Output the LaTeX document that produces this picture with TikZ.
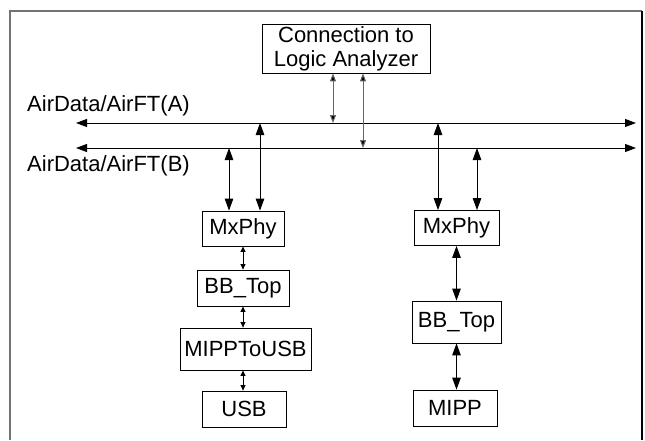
\documentclass[tikz,border=0pt]{standalone}
\usepackage{fontspec}
\setmainfont{Liberation Sans}
\usetikzlibrary{arrows.meta}

\begin{document}
\begin{tikzpicture}[
        x=1pt, y=-1pt,
        every node/.style={
            font=\fontsize{22}{24}\selectfont,
            inner sep=0pt
        },
        caja/.style={
            draw=black,
            line width=0.8pt,
            fill=white,
            align=center
        },
        bus/.style={
            line width=1pt,
            {Triangle[length=11pt,width=8pt]}-{Triangle[length=11pt,width=8pt]}
        },
        enlace/.style={
            line width=1pt,
            {Triangle[length=12pt,width=8.5pt]}-{Triangle[length=12pt,width=8.5pt]}
        },
        corto/.style={
            line width=0.9pt,
            {Triangle[length=5.5pt,width=5pt]}-{Triangle[length=5.5pt,width=5pt]}
        },
        sonda/.style={
            line width=1pt, draw=black!60,
            {Triangle[length=8pt,width=6pt,fill=black]}-{Triangle[length=8pt,width=6pt,fill=black]}
        }
    ]

    \useasboundingbox (0,0) rectangle (645,440);

    % Marco
    \draw[line width=1.5pt, black!55] (10,440) -- (10,11) -- (642,11);
    \draw[line width=1.5pt] (642,11) -- (642,440);

    % Cajas
    \node[caja, minimum width=168, minimum height=49] (la)   at (346,48.5) {Connection to\\Logic Analyzer};
    \node[caja, minimum width=82,  minimum height=35] (mxl)  at (243,228.5) {MxPhy};
    \node[caja, minimum width=92,  minimum height=36] (bbl)  at (243,288)   {BB\_Top};
    \node[caja, minimum width=131, minimum height=42] (conv) at (245.5,349) {MIPPToUSB};
    \node[caja, minimum width=84,  minimum height=36] (usb)  at (244,409)   {USB};
    \node[caja, minimum width=85,  minimum height=35] (mxr)  at (456.5,228) {MxPhy};
    \node[caja, minimum width=89,  minimum height=42] (bbr)  at (456.5,322) {BB\_Top};
    \node[caja, minimum width=84,  minimum height=36] (mipp) at (455,408)   {MIPP};

    % Buses
    \coordinate (aw) at (76,123);
    \coordinate (ae) at (636,123);
    \coordinate (bw) at (76,148);
    \coordinate (be) at (636,148);
    \draw[bus] (aw) -- (ae);
    \draw[bus] (bw) -- (be);
    \node[anchor=west] (lA) at (27,106) {AirData/AirFT(A)};
    \node[anchor=west] (lB) at (27,166) {AirData/AirFT(B)};

    % Derivaciones
    \coordinate (pa) at (333,123);
    \coordinate (pb) at (363,148);
    \coordinate (l1) at (229,148);
    \coordinate (l2) at (260,123);
    \coordinate (r1) at (438,123);
    \coordinate (r2) at (477,148);

    \draw[sonda] (pa |- la.south) -- (pa);
    \draw[sonda] (pb |- la.south) -- (pb);
    \draw[enlace] (l1) -- (l1 |- mxl.north);
    \draw[enlace] (l2) -- (l2 |- mxl.north);
    \draw[enlace] (r1) -- (r1 |- mxr.north);
    \draw[enlace] (r2) -- (r2 |- mxr.north);

    % Columna izquierda
    \draw[corto] (mxl.south) -- (bbl.north);
    \draw[corto] (bbl.south) -- (bbl.south |- conv.north);
    \draw[corto] (bbl.south |- conv.south) -- (bbl.south |- usb.north);

    % Columna derecha
    \draw[enlace] (mxr.south) -- (bbr.north);
    \draw[enlace] (bbr.south) -- (bbr.south |- mipp.north);

\end{tikzpicture}
\end{document}
